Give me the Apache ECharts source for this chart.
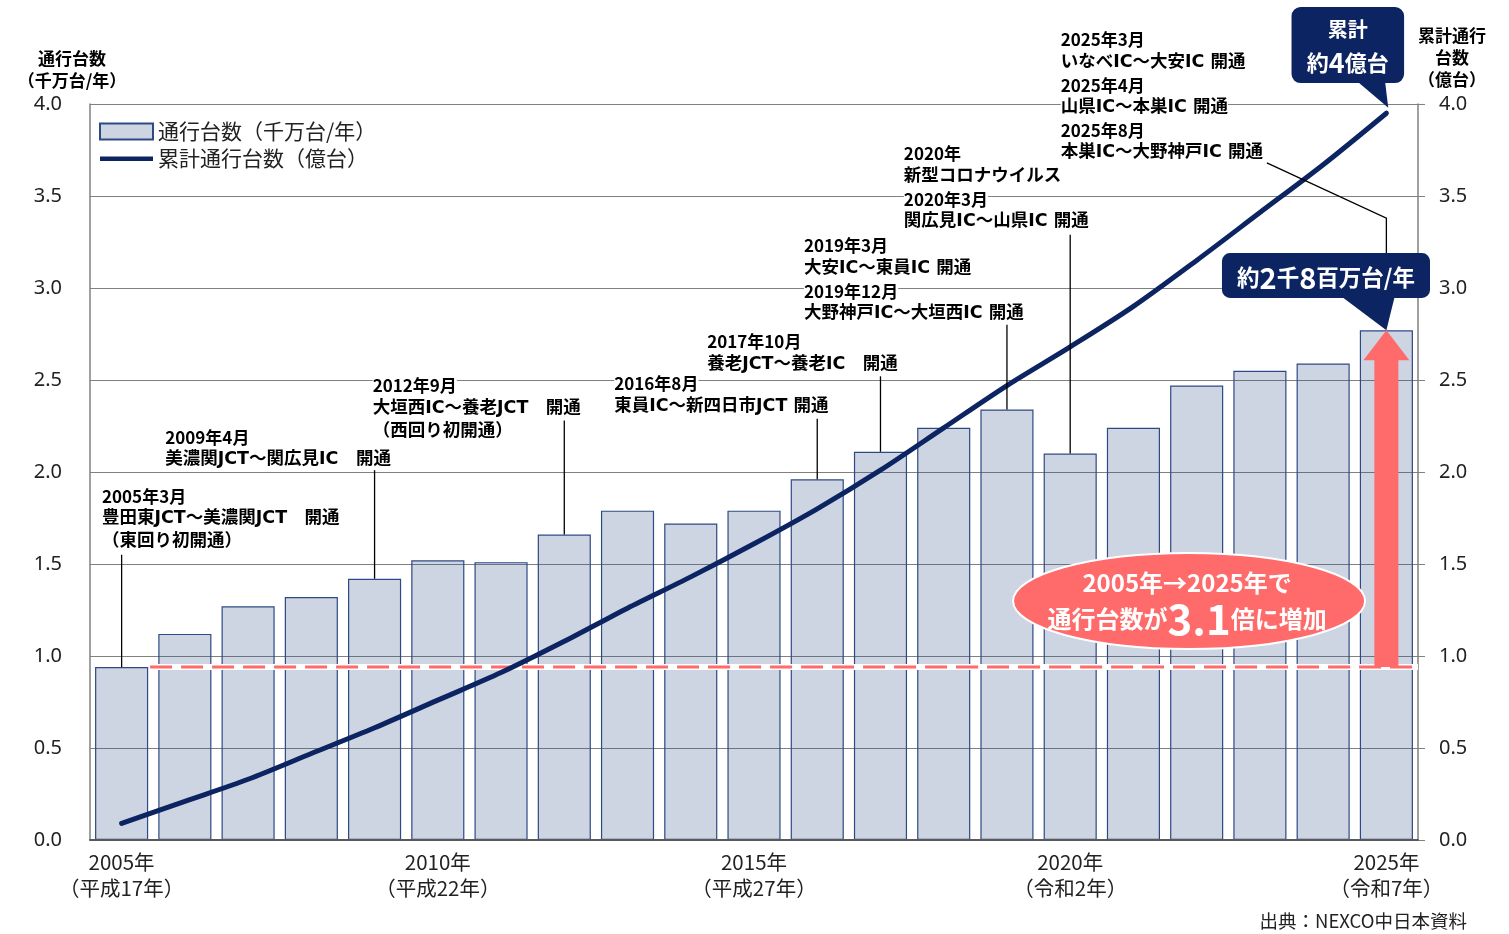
<!DOCTYPE html>
<html><head><meta charset="utf-8">
<script src="https://cdn.jsdelivr.net/npm/echarts@6/dist/echarts.min.js"></script>
<style>html,body{margin:0;padding:0;background:#fff}#c{width:1509px;height:934px}</style>
</head><body><div id="c"></div>
<script>
// ---- data ----
const years = ['2005','2006','2007','2008','2009','2010','2011','2012','2013','2014','2015','2016','2017','2018','2019','2020','2021','2022','2023','2024','2025'];
const eraNames = {'2005':'（平成17年）','2010':'（平成22年）','2015':'（平成27年）','2020':'（令和2年）','2025':'（令和7年）'};
const annualTraffic = [0.94,1.12,1.27,1.32,1.42,1.52,1.51,1.66,1.79,1.72,1.79,1.96,2.11,2.24,2.34,2.10,2.24,2.47,2.55,2.59,2.77];
const cumulativeTraffic = [0.09,0.21,0.33,0.47,0.61,0.76,0.91,1.08,1.26,1.43,1.61,1.80,2.01,2.24,2.47,2.68,2.90,3.15,3.41,3.67,3.95];
const yTicks = {min:0, max:4, interval:0.5};
const seriesNames = ['通行台数（千万台/年）','累計通行台数（億台）'];
const leftAxisTitle = ['通行台数','（千万台/年）'];
const rightAxisTitle = ['累計通行','台数','（億台）'];
const sourceText = '出典：NEXCO中日本資料';
const notes = [
  {year:'2005', lines:['2005年3月','豊田東JCT～美濃関JCT　開通','（東回り初開通）']},
  {year:'2009', lines:['2009年4月','美濃関JCT～関広見IC　開通']},
  {year:'2012', lines:['2012年9月','大垣西IC～養老JCT　開通','（西回り初開通）']},
  {year:'2016', lines:['2016年8月','東員IC～新四日市JCT 開通']},
  {year:'2017', lines:['2017年10月','養老JCT～養老IC　開通']},
  {year:'2019', lines:['2019年3月','大安IC～東員IC 開通','2019年12月','大野神戸IC～大垣西IC 開通']},
  {year:'2020', lines:['2020年','新型コロナウイルス','2020年3月','関広見IC～山県IC 開通']},
  {year:'2025', lines:['2025年3月','いなべIC～大安IC 開通','2025年4月','山県IC～本巣IC 開通','2025年8月','本巣IC～大野神戸IC 開通']}
];

// ---- layout (positions in data units of the plot: x = category slot, y = axis value) ----
const noteLayout = {
  '2005': {at:[0.19,1.93], lead:[[0.5,1.55]]},
  '2009': {at:[1.19,2.25], lead:[[4.5,2.01]]},
  '2012': {at:[4.47,2.53], lead:[[7.5,2.28]]},
  '2016': {at:[8.29,2.54], lead:[[11.5,2.29]]},
  '2017': {at:[9.76,2.77], lead:[[12.5,2.52]]},
  '2019': {at:[11.29,3.29], lead:[[14.5,2.80]]},
  '2020': {at:[12.87,3.79], lead:[[15.5,3.29]]},
  '2025': {at:[15.35,4.41], lead:[[18.61,3.68],[20.5,3.38],[20.5,3.19]], noBar:true}
};

const NAVY='#0c2461', RED='#ff6b6b', FONT='"Noto Sans CJK JP","Noto Sans",sans-serif';
const LATIN='"DejaVu Sans","Noto Sans CJK JP",sans-serif';
const chart = echarts.init(document.getElementById('c'));
const base = annualTraffic[0];
const n = years.length;
const lineIcon = 'path://M0,0h0.01v0.01h-0.01z M0,6h53v4.5h-53z M53,16h-0.01v-0.01h0.01z';

chart.setOption({
  animation:false,
  textStyle:{fontFamily:FONT},
  grid:{left:90,right:91,top:104,bottom:94},
  legend:{left:94, top:116, orient:'vertical', itemWidth:53, itemHeight:16, itemGap:6,
    textStyle:{fontSize:21,color:'#222',fontFamily:FONT},
    data:[{name:seriesNames[0],icon:'rect'},{name:seriesNames[1],icon:lineIcon,itemStyle:{color:NAVY}}]},
  xAxis:[
    {type:'category', data:years, z:3,
      axisLine:{lineStyle:{color:'#595959',width:2}}, axisTick:{show:false},
      axisLabel:{interval:4, fontSize:20.5, lineHeight:26, color:'#222', margin:9,
        formatter:v=>v+'年\n'+(eraNames[v]||'')}},
    {type:'value', min:0, max:n, show:false}
  ],
  yAxis:[
    {type:'value', min:yTicks.min, max:yTicks.max, interval:yTicks.interval,
      axisLine:{show:true,lineStyle:{color:'#808080',width:1.5}}, axisTick:{show:false},
      axisLabel:{formatter:v=>v.toFixed(1), fontSize:20, color:'#222', margin:28, fontFamily:'"Noto Sans",sans-serif'},
      splitLine:{lineStyle:{color:'#808080',width:1.2}}},
    {type:'value', min:yTicks.min, max:yTicks.max, interval:yTicks.interval, position:'right',
      axisLine:{show:true,lineStyle:{color:'#808080',width:1.5}}, axisTick:{show:true,length:7,lineStyle:{color:'#808080'}},
      axisLabel:{formatter:v=>v.toFixed(1), fontSize:20, color:'#222', margin:21, fontFamily:'"Noto Sans",sans-serif'},
      splitLine:{show:false}}
  ],
  series:[
    // translucent fill (same tint as #cdd3e1 on white) lets the gridlines show through the bars, as in the original
    {name:seriesNames[0], type:'bar', data:annualTraffic, barCategoryGap:'16%', z:2,
      itemStyle:{color:'rgba(46,74,132,0.24)', borderColor:'#2e4a84', borderWidth:1.2}},
    {name:'base-under', type:'line', xAxisIndex:1, data:[[0.95,base],[n,base]], symbol:'none', silent:true, z:4,
      lineStyle:{color:'#ffffff',width:6}},
    {name:'base-dash', type:'line', xAxisIndex:1, data:[[0.95,base],[n,base]], symbol:'none', silent:true, z:4,
      lineStyle:{color:RED,width:3,type:[22,9]}},
    {name:seriesNames[1], type:'line', yAxisIndex:1, data:cumulativeTraffic, smooth:0.3, symbol:'none', z:6,
      lineStyle:{color:NAVY,width:5,cap:'round'}, itemStyle:{color:NAVY}}
  ]
});

const P = (x,y)=>chart.convertToPixel({xAxisIndex:1,yAxisIndex:0},[x,y]);
const g = [];
// axis titles
const [lx] = P(0,4), [rx] = P(n,4);
g.push({type:'text', x:lx-18, y:48, z:10, style:{text:leftAxisTitle.join('\n'), align:'center', verticalAlign:'top', font:'bold 17px '+FONT, fill:'#000', lineHeight:22}});
g.push({type:'text', x:rx+34, y:25, z:10, style:{text:rightAxisTitle.join('\n'), align:'center', verticalAlign:'top', font:'bold 17px '+FONT, fill:'#000', lineHeight:22}});
// annotations
const isDate = s=>/^\d{4}年(\d+月)?$/.test(s);
notes.forEach(nt=>{
  const L = noteLayout[nt.year];
  const idx = years.indexOf(nt.year);
  const [tx,ty] = P(L.at[0],L.at[1]);
  const pts = L.lead.map(p=>P(p[0],p[1]));
  if(!L.noBar) pts.push(P(idx+0.5, annualTraffic[idx]));
  g.push({type:'polyline', z:8, shape:{points:pts}, style:{stroke:'#000',lineWidth:1.3,fill:null}});
  g.push({type:'text', x:tx, y:ty, z:9, style:{text:nt.lines.map(s=>(isDate(s)?'{b|':'{c|')+s+'}').join('\n'),
    rich:{b:{fontSize:17,fontWeight:'bold',fontFamily:FONT,fill:'#000',backgroundColor:'#fff',lineHeight:22.6},
          c:{fontSize:17.5,fontWeight:'bold',fontFamily:LATIN,fill:'#000',backgroundColor:'#fff',lineHeight:22.6}}}});
});
// red arrow (2005 level -> 2025 level)
{
  const last = n-1;
  const [ax,ay0] = P(last+0.5, base), [,ay1] = P(last+0.5, annualTraffic[last]);
  const sh=12, hh=23, hl=30;
  g.push({type:'polygon', z:7, shape:{points:[[ax-sh,ay0],[ax-sh,ay1+hl],[ax-hh,ay1+hl],[ax,ay1],[ax+hh,ay1+hl],[ax+sh,ay1+hl],[ax+sh,ay0]]}, style:{fill:RED}});
  // callout B: annual
  const [bx0,by0]=P(17.9,3.19), [bx1,by1]=P(21.19,2.946);
  const [px0]=P(19.8,0), [px1]=P(20.63,0);
  g.push({type:'rect', z:11, shape:{x:bx0,y:by0,width:bx1-bx0,height:by1-by0,r:8}, style:{fill:NAVY}});
  g.push({type:'polygon', z:11, shape:{points:[[px0,by1-1],[px1,by1-1],[ax,ay1]]}, style:{fill:NAVY}});
  g.push({type:'text', x:(bx0+bx1)/2, y:(by0+by1)/2+2, z:12, style:{text:'{m|約}{L|2}{m|千}{L|8}{m|百万台/年}', align:'center', verticalAlign:'middle',
    rich:{m:{fontSize:22.5,fontWeight:'bold',fill:'#fff',fontFamily:FONT}, L:{fontSize:29,fontWeight:'bold',fill:'#fff',fontFamily:FONT}}}});
  // callout A: cumulative
  const [cx0,cy0]=P(19.0,4.527), [cx1,cy1]=P(20.78,4.114);
  const [qx0]=P(20.05,0), [qx1]=P(20.48,0);
  const tip = P(last+0.53, cumulativeTraffic[last]+0.03);
  g.push({type:'rect', z:11, shape:{x:cx0,y:cy0,width:cx1-cx0,height:cy1-cy0,r:9}, style:{fill:NAVY}});
  g.push({type:'polygon', z:11, shape:{points:[[qx0,cy1-1],[qx1,cy1-1],tip]}, style:{fill:NAVY}});
  g.push({type:'text', x:(cx0+cx1)/2, y:(cy0+cy1)/2+1, z:12, style:{text:'{s|累計}\n{m|約}{L|4}{m|億台}', align:'center', verticalAlign:'middle',
    rich:{s:{fontSize:20,fontWeight:'bold',fill:'#fff',fontFamily:FONT,lineHeight:34}, m:{fontSize:22,fontWeight:'bold',fill:'#fff',fontFamily:FONT,lineHeight:34}, L:{fontSize:27,fontWeight:'bold',fill:'#fff',fontFamily:FONT,lineHeight:34}}}});
  // ellipse
  const [ex,ey]=P(17.38,1.299);
  g.push({type:'ellipse', z:10, shape:{cx:ex,cy:ey,rx:176,ry:48}, style:{fill:RED,stroke:'#fff',lineWidth:2}});
  g.push({type:'text', x:ex-2, y:ey, z:12, style:{text:'{m|2005年→2025年で}\n{m|通行台数が}{L|3.1}{m|倍に増加}', align:'center', verticalAlign:'middle',
    rich:{m:{fontSize:24,fontWeight:'bold',fill:'#fff',fontFamily:FONT,lineHeight:36}, L:{fontSize:42,fontWeight:'bold',fill:'#fff',fontFamily:FONT,lineHeight:36}}}});
}
// source
g.push({type:'text', x:1467, y:921, z:10, style:{text:sourceText, align:'right', verticalAlign:'middle', font:'18.5px '+FONT, fill:'#222'}});
chart.setOption({graphic:g});
</script>
</body></html>
